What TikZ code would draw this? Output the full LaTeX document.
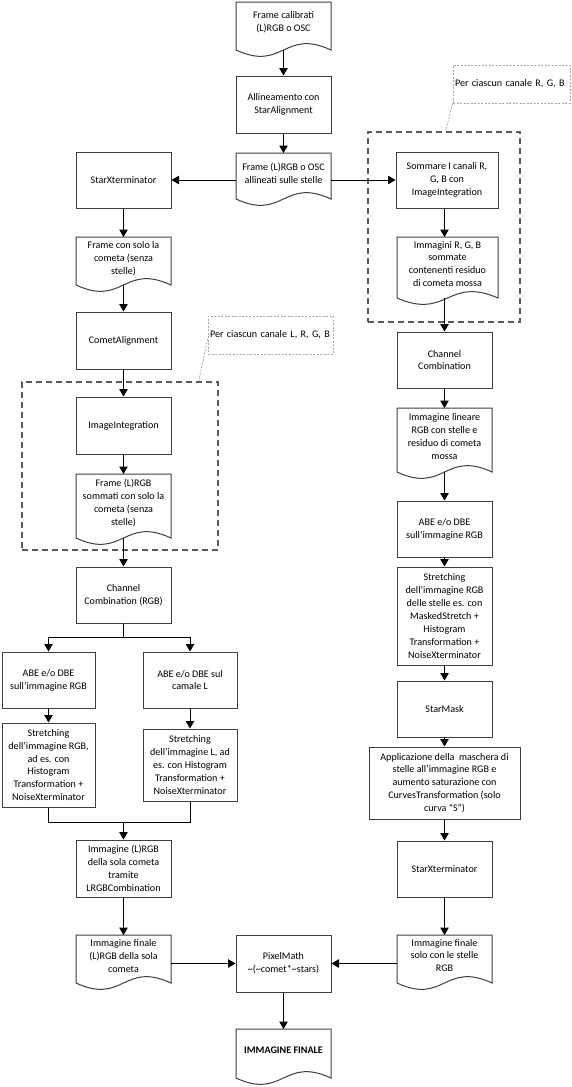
\documentclass[tikz,border=0pt]{standalone}
\usepackage{fontspec}
\setmainfont{Carlito}
\usetikzlibrary{arrows.meta,calc}
\definecolor{lc}{HTML}{404040}
\definecolor{gc}{HTML}{5A5A5A}
\definecolor{nc}{HTML}{A8A8A8}
\newcommand\fs{\fontsize{10.1pt}{12.9pt}\selectfont}
\newcommand\docout[1]{\draw[boxl] (#1.south west) -- (#1.north west) -- (#1.north east) -- (#1.south east) .. controls ([yshift=22pt]#1.south) and ([yshift=-22pt]#1.south) .. (#1.south west) -- cycle;}
\tikzset{
  base/.style={font=\fs, align=center, inner sep=0pt, text=black},
  boxl/.style={draw=lc, line width=1pt, line join=miter},
  proc/.style={base, boxl, rectangle, minimum width=95pt, minimum height=57pt},
  docn/.style={base, rectangle, outer sep=0pt, minimum width=95pt},
  dtxt/.style={base},
  ln/.style={draw=black, line width=1pt},
  arr/.style={ln, -{Triangle[width=8.5pt,length=7.5pt]}},
  grp/.style={draw=gc, line width=1.2pt, dash pattern=on 6pt off 4pt},
  note/.style={base, draw=nc, line width=0.8pt, dash pattern=on 2pt off 1.5pt, align=left, inner xsep=2pt, anchor=center},
  notel/.style={draw=nc, line width=0.8pt, dash pattern=on 2pt off 1.5pt}
}
\begin{document}
\begin{tikzpicture}[x=1pt,y=-1pt]
\useasboundingbox[fill=white] (0,0) rectangle (571,1087);

% groups
\node[grp, rectangle, minimum width=196pt, minimum height=168pt, inner sep=0pt] (g1) at (120,466) {};
\node[grp, rectangle, minimum width=152pt, minimum height=190pt, inner sep=0pt] (g2) at (444,227) {};

% notes
\node[note, text width=121pt, minimum height=38pt] (n1) at (270.5,335) {\mbox{Per ciascun canale L, R, G, B}};
\node[note, text width=113pt, minimum height=38pt] (n2) at (511.5,84) {\mbox{Per ciascun canale R, G, B}};
\draw[notel] ($(n1.south west)!0.4!(n1.north west)$) -- ([xshift=-20pt]g1.north east);
\draw[notel] (n2.south west) -- ([xshift=-75pt]g2.north east);

% center column
\node[docn, minimum height=48pt] (d1) at (283.5,26) {};
\node[dtxt] (d1t) at ([yshift=4pt]d1.center) {Frame calibrati\\(L)RGB o OSC};
\docout{d1}
\node[proc] (b1) at (283.5,104.5) {Allineamento con\\StarAlignment};
\node[docn, minimum height=46pt] (d2) at (283.5,176) {};
\node[dtxt] (d2t) at ([yshift=2.5pt]d2.center) {Frame (L)RGB o OSC\\allineati sulle stelle};
\docout{d2}

% left column
\node[proc, minimum height=56pt] (sx1) at (123.5,180) {StarXterminator};
\node[docn, minimum height=48pt] (d3) at (123.5,261) {};
\node[dtxt] (d3t) at ([yshift=2.5pt]d3.center) {Frame con solo la\\cometa (senza\\stelle)};
\docout{d3}
\node[proc] (ca) at (123.5,340.5) {CometAlignment};
\node[proc] (ii) at (123.5,425.5) {ImageIntegration};
\node[docn, minimum height=64pt] (d4) at (123.5,506) {};
\node[dtxt] (d4t) at ([yshift=3pt]d4.center) {Frame (L)RGB\\sommati con solo la\\cometa (senza\\stelle)};
\docout{d4}
\node[proc, minimum height=56pt] (cc1) at (123.5,595) {Channel\\Combination (RGB)};
\node[proc, minimum width=93pt, minimum height=56pt] (abe1) at (48.5,680) {ABE e/o DBE\\sull’immagine RGB};
\node[proc, minimum width=93pt, minimum height=84pt] (st1) at (48.5,765) {Stretching\\dell’immagine RGB,\\ad es. con\\Histogram\\Transformation +\\NoiseXterminator};
\node[proc, minimum width=94pt, minimum height=56pt] (abe2) at (190,680) {ABE e/o DBE sul\\camale L};
\node[proc, minimum width=94pt, minimum height=72pt] (st2) at (190,765) {Stretching\\dell’immagine L, ad\\es. con Histogram\\Transformation +\\NoiseXterminator};
\node[proc] (lrgb) at (123.5,868.5) {Immagine (L)RGB\\della sola cometa\\tramite\\LRGBCombination};
\node[docn, minimum height=48pt] (d5) at (123.5,959) {};
\node[dtxt] (d5t) at ([yshift=3pt]d5.center) {Immagine finale\\(L)RGB della sola\\cometa};
\docout{d5}

% bottom center
\node[proc] (pm) at (283.5,963.5) {PixelMath\\\textasciitilde(\textasciitilde comet*\textasciitilde stars)};
\node[docn, minimum height=49pt] (fin) at (283.5,1053.5) {};
\node[dtxt, font=\fs\bfseries] (fint) at ([yshift=3pt]fin.center) {IMMAGINE FINALE};
\docout{fin}

% right column
\node[proc, minimum width=102pt, minimum height=56pt] (sum) at (447,180) {Sommare I canali R,\\G, B con\\ImageIntegration};
\node[docn, minimum width=101pt, minimum height=61pt] (d6) at (447.5,267.5) {};
\node[dtxt] (d6t) at ([yshift=3.5pt]d6.center) {Immagini R, G, B\\sommate\\contenenti residuo\\di cometa mossa};
\docout{d6}
\node[proc, minimum height=56pt] (cc2) at (444.5,360) {Channel\\Combination};
\node[docn, minimum height=64pt] (d7) at (444.5,440) {};
\node[dtxt] (d7t) at ([yshift=3.5pt]d7.center) {Immagine lineare\\RGB con stelle e\\residuo di cometa\\mossa};
\docout{d7}
\node[proc, minimum height=56pt] (abe3) at (444.5,529) {ABE e/o DBE\\sull’immagine RGB};
\node[proc, minimum height=98pt] (st3) at (444.5,616) {Stretching\\dell’immagine RGB\\delle stelle es. con\\MaskedStretch +\\Histogram\\Transformation +\\NoiseXterminator};
\node[proc, minimum height=56pt] (sm) at (444.5,709) {StarMask};
\node[proc, minimum width=151pt, minimum height=72pt] (app) at (444.5,783) {Applicazione della\ \ maschera di\\stelle all’immagine RGB e\\aumento saturazione con\\CurvesTransformation (solo\\curva “S”)};
\node[proc, minimum height=56pt] (sx2) at (444.5,869) {StarXterminator};
\node[docn, minimum height=48pt] (d8) at (444.5,959) {};
\node[dtxt] (d8t) at ([yshift=3.5pt]d8.center) {Immagine finale\\solo con le stelle\\RGB};
\docout{d8}

% connectors
\draw[arr] (d1.south) -- (b1.north);
\draw[arr] (b1.south) -- (d2.north);
\draw[arr] (d2.west |- sx1.east) -- (sx1.east);
\draw[arr] (d2.east |- sum.west) -- (sum.west);
\draw[arr] (sx1.south) -- (d3.north);
\draw[arr] (d3.south) -- (ca.north);
\draw[arr] (ca.south) -- (ii.north);
\draw[arr] (ii.south) -- (d4.north);
\draw[arr] (d4.south) -- (cc1.north);
\draw[arr] (cc1.south) -- ++(0,14) -| (abe1.north);
\draw[arr] (cc1.south) -- ++(0,14) -| (abe2.north);
\draw[arr] (abe1.south) -- (st1.north);
\draw[arr] (abe2.south) -- (st2.north);
\coordinate (jn) at (123.5,822);
\draw[ln] (st1.south) |- (jn) -| (st2.south);
\draw[arr] (jn) -- (lrgb.north);
\draw[arr] (lrgb.south) -- (d5.north);
\draw[arr] (d5.east |- pm.west) -- (pm.west);
\draw[arr] (d8.west |- pm.east) -- (pm.east);
\draw[arr] (pm.south) -- (fin.north);

\draw[arr] (sum.south -| cc2.north) -- (d6.north -| cc2.north);
\draw[arr] (d6.south -| cc2.north) -- (cc2.north);
\draw[arr] (cc2.south) -- (d7.north);
\draw[arr] (d7.south) -- (abe3.north);
\draw[arr] (abe3.south) -- (st3.north);
\draw[arr] (st3.south) -- (sm.north);
\draw[arr] (sm.south) -- (app.north);
\draw[arr] (app.south) -- (sx2.north);
\draw[arr] (sx2.south) -- (d8.north);
\end{tikzpicture}
\end{document}
